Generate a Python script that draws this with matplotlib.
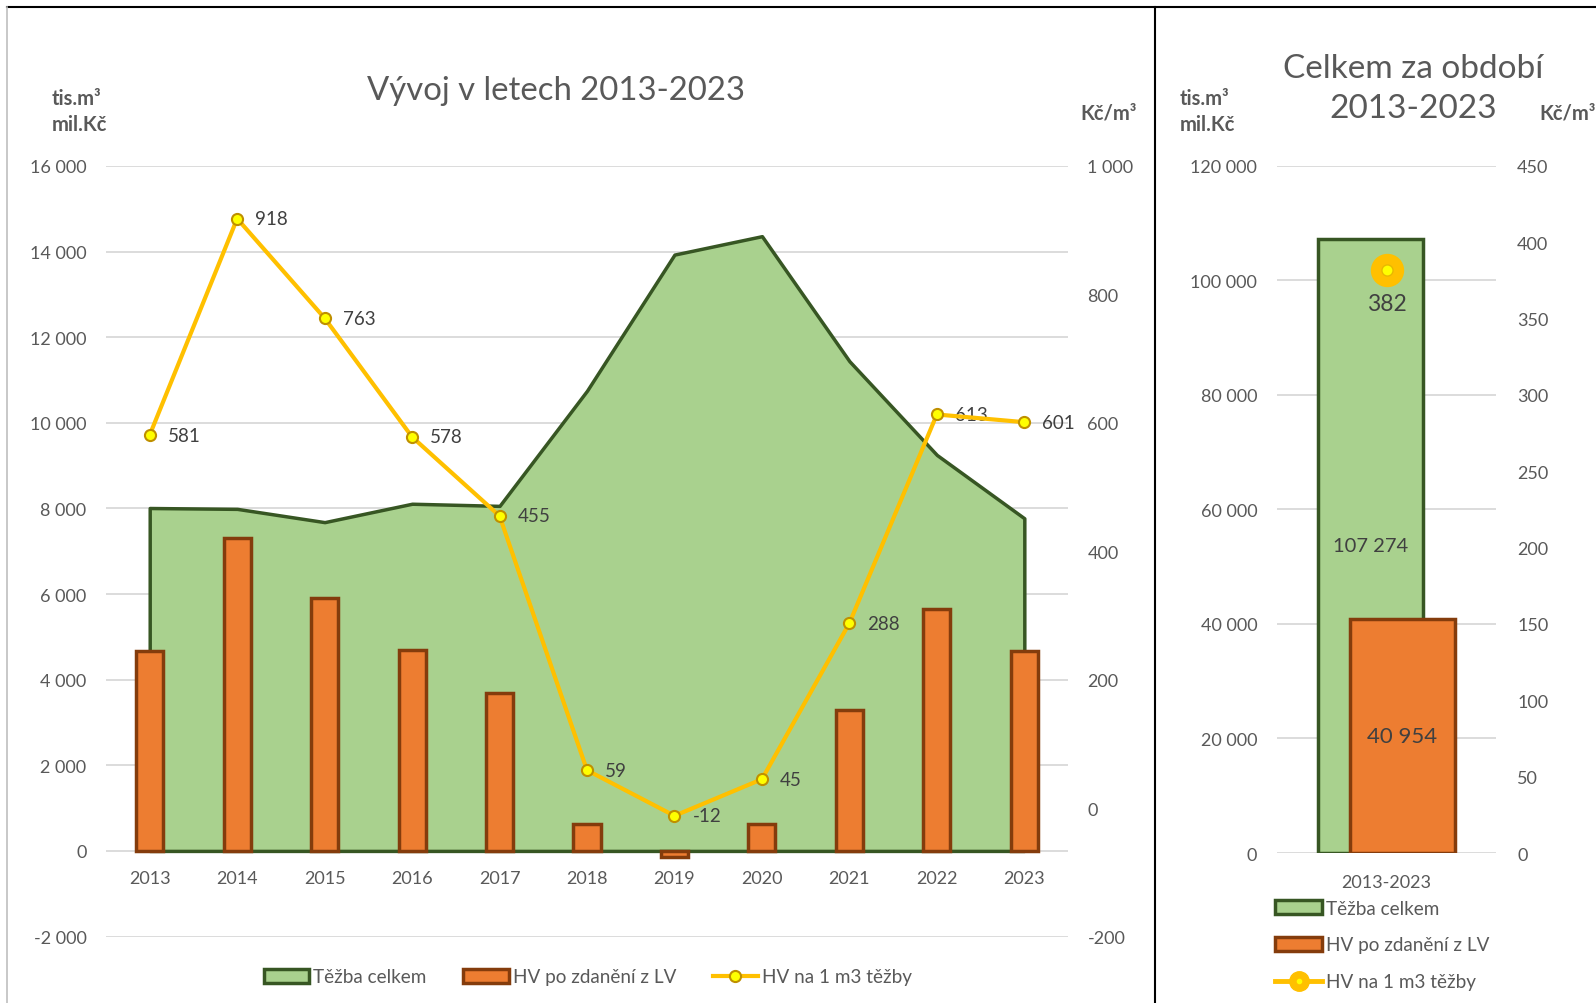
import matplotlib
matplotlib.use('Agg')
import matplotlib.pyplot as plt
import numpy as np
from matplotlib.patches import Patch
from matplotlib.lines import Line2D
from matplotlib.ticker import FuncFormatter, MultipleLocator
from matplotlib.legend_handler import HandlerTuple

plt.rcParams['font.family'] = ['Lato', 'DejaVu Sans']

# data
years = ['2013', '2014', '2015', '2016', '2017', '2018', '2019', '2020', '2021', '2022', '2023']
tezba = [8010, 7990, 7680, 8110, 8060, 10750, 13930, 14360, 11440, 9250, 7770]
hv_po_zdaneni = [4660, 7320, 5900, 4690, 3690, 640, -140, 640, 3300, 5660, 4660]
hv_na_m3 = [581, 918, 763, 578, 455, 59, -12, 45, 288, 613, 601]

total_label = ['2013-2023']
total_tezba = [107274]
total_hv = [40954]
total_hv_m3 = [382]

GREEN = '#A9D18E'
GREEN_EDGE = '#375623'
ORANGE = '#ED7D31'
ORANGE_EDGE = '#843C0C'
GOLD = '#FFC000'
YELLOW = '#FFFF00'
GRID = '#D9D9D9'
TXT = '#595959'
LBL = '#404040'


def fmt(v, pos=None):
    return f'{v:,.0f}'.replace(',', ' ')


fig = plt.figure(figsize=(15.96, 10.04), dpi=100)

# ---- left panel ----
ax = fig.add_axes([0.0664, 0.0662, 0.6028, 0.7675])
x = np.arange(len(years))
ax.fill_between(x, 0, tezba, facecolor=GREEN, edgecolor=GREEN_EDGE, linewidth=2.5, zorder=2)
ax.bar(x, hv_po_zdaneni, width=0.31, color=ORANGE, edgecolor=ORANGE_EDGE, linewidth=2.5, zorder=3)
ax.set_xlim(-0.5, len(years) - 0.5)
ax.set_ylim(-2000, 16000)
ax.yaxis.set_major_locator(MultipleLocator(2000))
ax.yaxis.set_major_formatter(FuncFormatter(fmt))
ax.grid(axis='y', color=GRID, linewidth=1.3)
ax.set_axisbelow(True)
ax.set_xticks(x)
ax.set_xticklabels(years)
ax.spines['bottom'].set_position(('data', 0))
for s in ax.spines.values():
    s.set_visible(False)
ax.tick_params(axis='x', length=0, pad=14, labelsize=13, labelcolor=TXT)
ax.tick_params(axis='y', length=0, pad=14, labelsize=13, labelcolor=TXT)

axr = ax.twinx()
axr.plot(x, hv_na_m3, color=GOLD, linewidth=3, marker='o', markersize=8,
         markerfacecolor=YELLOW, markeredgecolor='#BF9000', markeredgewidth=1.5, zorder=5)
for xi, v in zip(x, hv_na_m3):
    axr.annotate(str(v), (xi, v), xytext=(13, 0), textcoords='offset points',
                 ha='left', va='center', fontsize=13.5, color=LBL)
axr.set_ylim(-200, 1000)
axr.yaxis.set_major_locator(MultipleLocator(200))
axr.yaxis.set_major_formatter(FuncFormatter(fmt))
for s in axr.spines.values():
    s.set_visible(False)
axr.tick_params(axis='y', length=0, pad=14, labelsize=13, labelcolor=TXT)

fig.text(556 / 1596, 1 - 91 / 1004, 'Vývoj v letech 2013-2023', ha='center', va='center',
         fontsize=23.7, color=TXT)
fig.text(52 / 1596, 1 - 112 / 1004, 'tis.m³\nmil.Kč', ha='left', va='center',
         fontsize=14.5, fontweight='bold', color=TXT, linespacing=1.4)
fig.text(1137 / 1596, 1 - 113 / 1004, 'Kč/m³', ha='right', va='center',
         fontsize=14.5, fontweight='bold', color=TXT)

h_area = Patch(facecolor=GREEN, edgecolor=GREEN_EDGE, linewidth=2.5)
h_bar = Patch(facecolor=ORANGE, edgecolor=ORANGE_EDGE, linewidth=2.5)
h_line = Line2D([], [], color=GOLD, linewidth=3, marker='o', markersize=8,
                markerfacecolor=YELLOW, markeredgecolor='#BF9000', markeredgewidth=1.5)
fig.legend([h_area, h_bar, h_line], ['Těžba celkem', 'HV po zdanění z LV', 'HV na 1 m3 těžby'],
           loc='center', bbox_to_anchor=(588 / 1596, 1 - 978 / 1004), ncol=3, frameon=False,
           fontsize=13.6, labelcolor=TXT, handlelength=2.4, handleheight=0.7,
           handletextpad=0.2, columnspacing=1.95)

# ---- right panel ----
ax2 = fig.add_axes([0.800, 0.1494, 0.1375, 0.6843])
ax2.bar([-0.073], total_tezba, width=0.48, color=GREEN, edgecolor=GREEN_EDGE, linewidth=2.5, zorder=2)
ax2.bar([0.073], total_hv, width=0.48, color=ORANGE, edgecolor=ORANGE_EDGE, linewidth=2.5, zorder=3)
ax2.text(-0.073, total_tezba[0] / 2, fmt(total_tezba[0]), ha='center', va='center',
         fontsize=14.5, color=LBL, zorder=4)
ax2.text(0.073, total_hv[0] / 2, fmt(total_hv[0]), ha='center', va='center',
         fontsize=16, color=LBL, zorder=4)
ax2.set_xlim(-0.5, 0.5)
ax2.set_ylim(0, 120000)
ax2.yaxis.set_major_locator(MultipleLocator(20000))
ax2.yaxis.set_major_formatter(FuncFormatter(fmt))
ax2.grid(axis='y', color=GRID, linewidth=1.3)
ax2.set_axisbelow(True)
ax2.set_xticks([0])
ax2.set_xticklabels(total_label)
for s in ax2.spines.values():
    s.set_visible(False)
ax2.tick_params(axis='x', length=0, pad=15, labelsize=13, labelcolor=TXT)
ax2.tick_params(axis='y', length=0, pad=14, labelsize=13, labelcolor=TXT)

ax2r = ax2.twinx()
ax2r.plot([0], total_hv_m3, linestyle='none', marker='o', markersize=23, color=GOLD, zorder=5)
ax2r.plot([0], total_hv_m3, linestyle='none', marker='o', markersize=8,
          markerfacecolor=YELLOW, markeredgecolor='#E8B800', markeredgewidth=1, zorder=6)
ax2r.annotate(str(total_hv_m3[0]), (0, total_hv_m3[0]), xytext=(0, -24), textcoords='offset points',
              ha='center', va='center', fontsize=16.5, color=LBL)
ax2r.set_ylim(0, 450)
ax2r.yaxis.set_major_locator(MultipleLocator(50))
for s in ax2r.spines.values():
    s.set_visible(False)
ax2r.tick_params(axis='y', length=0, pad=15, labelsize=13, labelcolor=TXT)

fig.text(1413 / 1596, 1 - 89 / 1004, 'Celkem za období\n2013-2023', ha='center', va='center',
         fontsize=24, color=TXT, linespacing=1.42)
fig.text(1180 / 1596, 1 - 112 / 1004, 'tis.m³\nmil.Kč', ha='left', va='center',
         fontsize=14.5, fontweight='bold', color=TXT, linespacing=1.4)
fig.text(1596 / 1596, 1 - 113 / 1004, 'Kč/m³', ha='right', va='center',
         fontsize=14.5, fontweight='bold', color=TXT)

h_pt = (Line2D([], [], color=GOLD, linewidth=3.5, marker='o', markersize=14),
        Line2D([], [], linestyle='none', marker='o', markersize=3, color=YELLOW))
fig.legend([h_area, h_bar, h_pt], ['Těžba celkem', 'HV po zdanění z LV', 'HV na 1 m3 těžby'],
           loc='center left', bbox_to_anchor=(1258 / 1596, 1 - 946 / 1004), ncol=1, frameon=False,
           fontsize=13.6, labelcolor=TXT, handlelength=2.5, handleheight=0.7,
           handletextpad=0.2, labelspacing=1.05,
           handler_map={tuple: HandlerTuple(ndivide=1, pad=0)})

# frame lines
fig.add_artist(Line2D([7 / 1596, 1], [1 - 8 / 1004] * 2, color='black', linewidth=1.5))
fig.add_artist(Line2D([7 / 1596] * 2, [0, 1 - 8 / 1004], color='#BFBFBF', linewidth=1.2))
fig.add_artist(Line2D([1155 / 1596] * 2, [0, 1 - 8 / 1004], color='black', linewidth=1.5))

fig.savefig('out.png', dpi=100)
